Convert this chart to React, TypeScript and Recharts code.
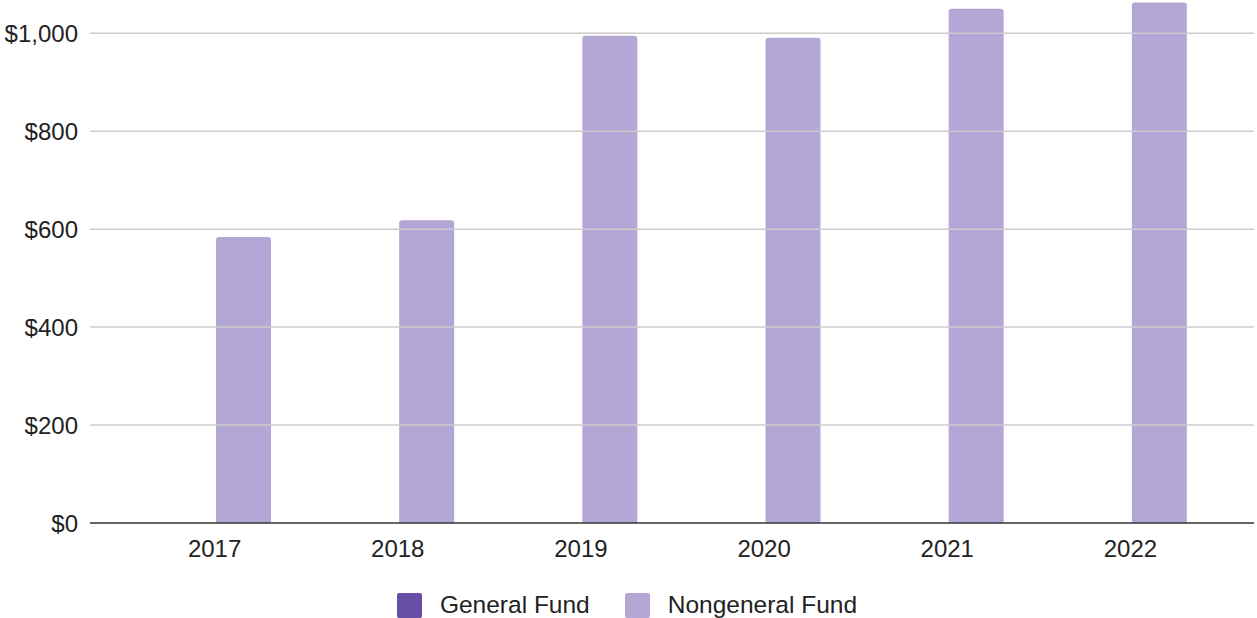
import React from 'react';
import { BarChart, Bar, XAxis, YAxis, ReferenceLine, Legend } from 'recharts';

const years = ['2017', '2018', '2019', '2020', '2021', '2022'];
const generalFund = [0, 0, 0, 0, 0, 0];
const nongeneralFund = [584, 618, 995, 991, 1050, 1063];
const yTicks = [0, 200, 400, 600, 800, 1000];

const data = years.map((y, i) => ({
  year: y,
  general: generalFund[i],
  nongeneral: nongeneralFund[i],
}));

const FONT = '"Liberation Sans", Arial, sans-serif';
const TEXT = '#222222';

const fmt = (v: number) => '$' + v.toLocaleString('en-US');

const renderLegend = (props: any) => {
  const { payload } = props;
  return (
    <div
      style={{
        display: 'flex',
        justifyContent: 'center',
        alignItems: 'center',
        height: 30,
        paddingTop: 4,
        boxSizing: 'border-box',
        fontFamily: FONT,
        fontSize: 24.5,
        color: TEXT,
      }}
    >
      {payload.map((p: any, i: number) => (
        <div key={i} style={{ display: 'flex', alignItems: 'center', marginLeft: i ? 35 : 0 }}>
          <div style={{ width: 25, height: 25, background: p.color, borderRadius: 2, marginRight: 18 }} />
          <span>{p.value}</span>
        </div>
      ))}
    </div>
  );
};

export default function App() {
  return (
    <div style={{ position: 'absolute', left: 0, top: 0, width: 1257, height: 618, background: '#fff' }}>
      <BarChart
        width={1257}
        height={618}
        data={data}
        margin={{ top: 0, right: 3, left: 0, bottom: 0 }}
        barGap={3}
        barSize={55}
      >
        {yTicks.slice(1).map((t) => (
          <ReferenceLine key={t} y={t} stroke="#cccccc" strokeWidth={1.5} />
        ))}
        <XAxis
          dataKey="year"
          height={65}
          padding={{ left: 33, right: 32 }}
          tickLine={false}
          tickMargin={11}
          axisLine={{ stroke: '#333333', strokeWidth: 1.5 }}
          tick={{ fill: TEXT, fontSize: 24, fontFamily: FONT }}
        />
        <YAxis
          width={90}
          domain={[0, 1068]}
          ticks={yTicks}
          allowDataOverflow
          tickFormatter={fmt}
          axisLine={false}
          tickLine={false}
          tickMargin={6}
          tick={{ fill: TEXT, fontSize: 24, fontFamily: FONT }}
        />
        <Legend verticalAlign="bottom" height={30} content={renderLegend} />
        <Bar dataKey="general" name="General Fund" fill="#674ea7" radius={[3, 3, 0, 0]} isAnimationActive={false} />
        <Bar dataKey="nongeneral" name="Nongeneral Fund" fill="#b4a7d6" radius={[3, 3, 0, 0]} isAnimationActive={false} />
      </BarChart>
    </div>
  );
}
